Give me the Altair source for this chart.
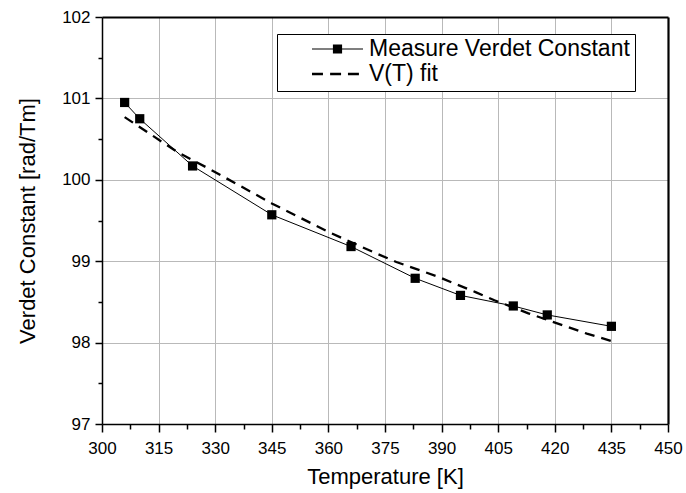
import altair as alt
import pandas as pd

# Measured Verdet constant
T_meas = [306, 310, 324, 345, 366, 383, 395, 409, 418, 435]
V_meas = [100.95, 100.75, 100.17, 99.57, 99.18, 98.79, 98.58, 98.45, 98.34, 98.20]

# V(T) fit curve
T_fit = [306, 320, 329, 345, 360, 372, 378, 389, 399, 404, 413, 428.5, 435]
V_fit = [100.77, 100.34, 100.12, 99.71, 99.36, 99.11, 98.99, 98.81, 98.62, 98.52, 98.36, 98.11, 98.02]

x_major = [300, 315, 330, 345, 360, 375, 390, 405, 420, 435, 450]
x_minor = [307.5, 322.5, 337.5, 352.5, 367.5, 382.5, 397.5, 412.5, 427.5, 442.5]
y_major = [97, 98, 99, 100, 101, 102]
y_minor = [97.5, 98.5, 99.5, 100.5, 101.5]
x_grid = [315, 330, 345, 360, 375, 390, 405, 420, 435]
y_grid = [98, 99, 100, 101]

series = ["Measure Verdet Constant", "V(T) fit"]

meas = pd.DataFrame({"T": T_meas, "V": V_meas})
fit = pd.DataFrame({"T": T_fit, "V": V_fit})
leg = pd.DataFrame({"series": series})

FONT = "Liberation Sans"

x_scale = alt.Scale(domain=[300, 450], nice=False, zero=False)
y_scale = alt.Scale(domain=[97, 102], nice=False, zero=False)

x_axis = alt.Axis(
    values=x_major, title="Temperature [K]", orient="bottom",
    tickSize=8, labelPadding=8, titlePadding=10,
    labelFlush=False, labelOverlap=False, grid=False,
)
y_axis = alt.Axis(
    values=y_major, title="Verdet Constant [rad/Tm]", orient="left",
    tickSize=7, labelPadding=5, titlePadding=22,
    labelFlush=False, labelOverlap=False, grid=False,
)
x_axis_minor = alt.Axis(
    values=x_minor, title=None, orient="bottom", labels=False, grid=False,
    domain=False, tickSize=5,
)
y_axis_minor = alt.Axis(
    values=y_minor, title=None, orient="left", labels=False, grid=False,
    domain=False, tickSize=4,
)
# grid lines (beneath the data)
x_axis_grid = alt.Axis(
    values=x_grid, title=None, orient="bottom", labels=False, grid=True,
    domain=False, ticks=False, zindex=0,
)
y_axis_grid = alt.Axis(
    values=y_grid, title=None, orient="left", labels=False, grid=True,
    domain=False, ticks=False, zindex=0,
)
# top / right frame
x_axis_frame = alt.Axis(
    values=x_grid, title=None, orient="top", labels=False, grid=False,
    domain=True, domainWidth=2, domainColor="black", ticks=False, zindex=1,
)
y_axis_frame = alt.Axis(
    values=y_grid, title=None, orient="right", labels=False, grid=False,
    domain=True, domainWidth=2.2, domainColor="black", ticks=False, zindex=1,
)

fit_line = alt.Chart(fit).mark_line(color="black", strokeWidth=2.3, strokeDash=[10, 7]).encode(
    x=alt.X("T:Q", scale=x_scale, axis=x_axis),
    y=alt.Y("V:Q", scale=y_scale, axis=y_axis),
)

meas_line = alt.Chart(meas).mark_line(color="black", strokeWidth=1).encode(
    x=alt.X("T:Q", scale=x_scale, axis=x_axis_minor),
    y=alt.Y("V:Q", scale=y_scale, axis=y_axis_minor),
)

meas_pts = alt.Chart(meas).mark_point(shape="square", filled=True, color="black", opacity=1, size=85).encode(
    x=alt.X("T:Q", scale=x_scale, axis=x_axis_grid),
    y=alt.Y("V:Q", scale=y_scale, axis=y_axis_grid),
)

frame_layer = alt.Chart(meas).mark_point(opacity=0).encode(
    x=alt.X("T:Q", scale=x_scale, axis=x_axis_frame),
    y=alt.Y("V:Q", scale=y_scale, axis=y_axis_frame),
)

# legend symbols within unit box -1..1: solid line with square, and dashed line
sym_meas = "M-1,-0.02H1V0.02H-1ZM-0.18,-0.18H0.18V0.18H-0.18Z"
sym_fit = ("M-1,-0.05H-0.57V0.05H-1Z"
           "M-0.29,-0.05H0.14V0.05H-0.29Z"
           "M0.41,-0.05H0.84V0.05H0.41Z")

legend_layer = alt.Chart(leg).mark_point(filled=True, color="black", opacity=0).encode(
    shape=alt.Shape(
        "series:N",
        scale=alt.Scale(domain=series, range=[sym_meas, sym_fit]),
        legend=alt.Legend(
            title=None,
            orient="none",
            legendX=175,
            legendY=17,
            padding=5,
            strokeColor="black",
            fillColor="white",
            symbolSize=2601,
            symbolOffset=30,
            symbolOpacity=1,
            symbolFillColor="black",
            symbolStrokeColor="black",
            symbolStrokeWidth=0,
            clipHeight=20,
            labelFont=FONT,
            labelFontSize=23,
            labelColor="black",
            labelOffset=6,
            rowPadding=2,
            labelLimit=400,
        ),
    )
)

chart = alt.layer(fit_line, meas_line, meas_pts, frame_layer, legend_layer).resolve_axis(
    x="independent", y="independent"
).properties(
    width=566,
    height=407,
    background="white",
    autosize=alt.AutoSizeParams(type="none"),
    padding={"left": 102, "top": 17, "right": 18, "bottom": 69},
).configure_view(
    stroke=None
).configure_axis(
    labelFont=FONT,
    labelFontSize=17,
    labelColor="black",
    titleFont=FONT,
    titleFontSize=22,
    titleFontWeight="normal",
    titleColor="black",
    domainColor="black",
    domainWidth=1.5,
    tickColor="black",
    tickWidth=1.5,
    gridColor="#b9b9b9",
    gridWidth=1,
)

chart.save("out.html", embed_options={"renderer": "svg", "actions": False})
